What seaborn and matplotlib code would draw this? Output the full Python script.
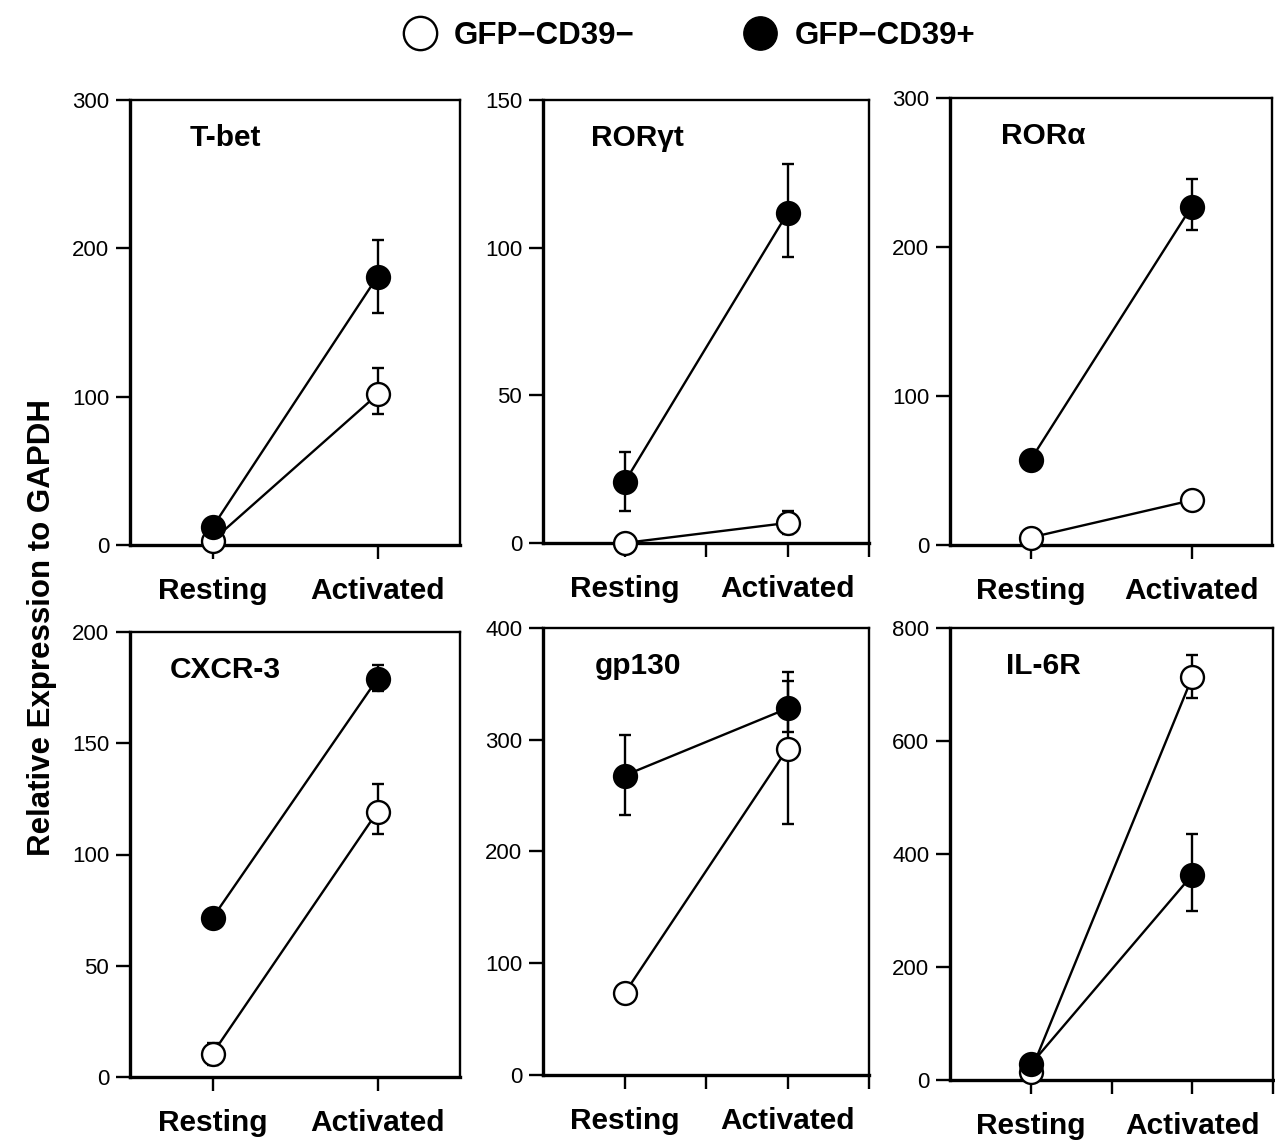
import numpy as np
import pandas as pd
import matplotlib
matplotlib.use("Agg")
import matplotlib.pyplot as plt
from matplotlib.lines import Line2D
import seaborn as sns

# ---------------- data ----------------
conditions = ["Resting", "Activated"]
genes = ["T-bet", "ROR\u03b3t", "ROR\u03b1", "CXCR-3", "gp130", "IL-6R"]
series_labels = ["GFP\u2212CD39\u2212", "GFP\u2212CD39+"]

# GFP-CD39- (open circles)
neg_resting = [3, 0, 5, 10.5, 73, 15]
neg_activated = [101.5, 6.8, 30, 119.3, 292, 713]
neg_resting_err_lo = [0, 0, 0, 5, 0, 0]
neg_resting_err_hi = [0, 0, 0, 5, 0, 0]
neg_activated_err_lo = [13, 3.8, 0, 10.2, 67, 37]
neg_activated_err_hi = [17.5, 3.9, 0, 12.5, 61, 40]

# GFP-CD39+ (filled circles)
pos_resting = [12, 20.5, 57, 71.5, 268, 27.5]
pos_activated = [181, 111.7, 227, 179, 328, 363]
pos_resting_err_lo = [0, 9.5, 0, 0, 35, 0]
pos_resting_err_hi = [0, 10.3, 0, 0, 36, 0]
pos_activated_err_lo = [24.5, 15, 15.5, 5.4, 21, 64]
pos_activated_err_hi = [24.3, 16.7, 18.6, 6.3, 33, 73]

y_max = [300, 150, 300, 200, 400, 800]
y_step = [100, 50, 100, 50, 100, 200]

# ---------------- style ----------------
sns.set_theme(style="ticks", rc={
    "axes.edgecolor": "black", "xtick.color": "black", "ytick.color": "black",
    "text.color": "black", "axes.labelcolor": "black",
})
plt.rcParams["font.family"] = ["Liberation Sans", "DejaVu Sans"]

fig = plt.figure(figsize=(12.75, 11.41), dpi=100)

W, H = 1275.0, 1141.0
# pixel boxes (left, top, right, bottom)
boxes = [
    (130, 100, 460, 545),
    (543, 100, 869, 543),
    (950, 98, 1272, 545),
    (130, 632, 460, 1077),
    (543, 628, 869, 1075),
    (950, 628, 1273, 1080),
]
minor_ticks = [False, True, False, False, True, True]

x_pos = [0, 1]
for i, gene in enumerate(genes):
    l, t, r, b = boxes[i]
    ax = fig.add_axes([l / W, 1 - b / H, (r - l) / W, (b - t) / H])

    groups = [
        (series_labels[0], [neg_resting[i], neg_activated[i]],
         [neg_resting_err_lo[i], neg_activated_err_lo[i]],
         [neg_resting_err_hi[i], neg_activated_err_hi[i]], "white", 3),
        (series_labels[1], [pos_resting[i], pos_activated[i]],
         [pos_resting_err_lo[i], pos_activated_err_lo[i]],
         [pos_resting_err_hi[i], pos_activated_err_hi[i]], "black", 4),
    ]
    for label, vals, lo, hi, face, z in groups:
        lo = np.array(lo, dtype=float)
        hi = np.array(hi, dtype=float)
        mask = (lo + hi) > 0
        if mask.any():
            ax.errorbar(np.array(x_pos)[mask], np.array(vals)[mask],
                        yerr=[lo[mask], hi[mask]], fmt="none", ecolor="black",
                        elinewidth=1.7, capsize=4.5, capthick=1.7, zorder=2)
        df = pd.DataFrame({"x": x_pos, "y": vals})
        sns.lineplot(data=df, x="x", y="y", ax=ax, color="black", lw=1.7,
                     marker="o", markersize=16.5, markerfacecolor=face,
                     markeredgecolor="black", markeredgewidth=1.7,
                     errorbar=None, zorder=z, clip_on=False)

    ax.set_xlim(-0.5, 1.5)
    ax.set_ylim(0, y_max[i])
    ax.set_yticks(np.arange(0, y_max[i] + 1, y_step[i]))
    ax.set_xticks(x_pos)
    ax.set_xticklabels(conditions, fontsize=21.5, fontweight="bold")
    if minor_ticks[i]:
        ax.set_xticks([0.5, 1.5], minor=True)
    ax.tick_params(axis="y", direction="out", length=10, width=1.7,
                   labelsize=16, pad=5)
    ax.tick_params(axis="x", which="both", direction="out", length=10,
                   width=1.7, pad=13)
    ax.set_xlabel("")
    ax.set_ylabel("")
    for side in ["left", "bottom"]:
        ax.spines[side].set_linewidth(2.4)
    for side in ["top", "right"]:
        ax.spines[side].set_linewidth(1.7)
        ax.spines[side].set_visible(True)
    ax.text(0.29, 0.915, gene, transform=ax.transAxes, ha="center",
            va="center", fontsize=21.5, fontweight="bold")

fig.text(42 / W, 1 - 628 / H, "Relative Expression to GAPDH", rotation=90,
         ha="center", va="center", fontsize=22.5, fontweight="bold")

handles = [
    Line2D([], [], ls="none", marker="o", markersize=24, markerfacecolor="white",
           markeredgecolor="black", markeredgewidth=1.7),
    Line2D([], [], ls="none", marker="o", markersize=24, markerfacecolor="black",
           markeredgecolor="black"),
]
fig.legend(handles, series_labels, loc="center", bbox_to_anchor=(688 / W, 1 - 36 / H),
           ncol=2, frameon=False, handlelength=1.2, handletextpad=0.5,
           columnspacing=3.4, prop={"size": 22.5, "weight": "bold"})

fig.savefig("out.png", dpi=100)
